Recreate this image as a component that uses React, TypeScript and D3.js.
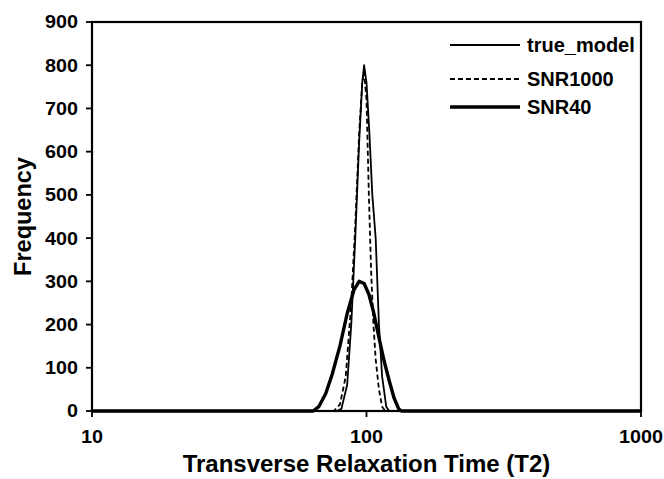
import React from 'react';
import * as d3 from 'd3';

// T2 grid points (ms) and frequencies
const trueT2 = [10, 78, 81, 85, 88, 91, 94, 96.5, 98, 100, 102.5, 105, 108, 111, 114, 118, 121, 1000];
const trueModel = [0, 0, 5, 60, 200, 400, 620, 760, 800, 760, 640, 500, 400, 200, 80, 10, 0, 0];

const snr1000T2 = [10, 76, 80, 84, 88, 91, 94, 96.5, 98, 100, 102, 104, 106, 108, 111, 114, 117, 1000];
const snr1000 = [0, 0, 15, 80, 250, 430, 640, 760, 785, 720, 500, 320, 200, 120, 50, 10, 0, 0];

const snr40T2 = [10, 64, 67, 71, 75, 80, 85, 90, 94, 98, 102, 106, 111, 116, 121, 126, 131, 134, 1000];
const snr40 = [0, 0, 10, 40, 85, 150, 225, 280, 300, 295, 270, 230, 170, 115, 70, 30, 5, 0, 0];

const yTicks = [0, 100, 200, 300, 400, 500, 600, 700, 800, 900];
const xTicks = [10, 100, 1000];

const series = [
  { name: 'true_model', xs: trueT2, ys: trueModel, width: 1.8, dash: '' },
  { name: 'SNR1000', xs: snr1000T2, ys: snr1000, width: 1.8, dash: '5,3' },
  { name: 'SNR40', xs: snr40T2, ys: snr40, width: 3.4, dash: '' },
];
const legendY = [45, 79, 107];

const W = 664, H = 479;
const left = 92, right = 641, top = 22, bottom = 411;

export default function App() {
  const x = d3.scaleLog().domain([10, 1000]).range([left, right]);
  const y = d3.scaleLinear().domain([0, 900]).range([bottom, top]);
  const line = d3.line<[number, number]>().x((d) => x(d[0])).y((d) => y(d[1]));
  const font = 'Liberation Sans, Arial, sans-serif';

  return (
    <svg width={W} height={H} style={{ position: 'absolute', left: 0, top: 0, background: '#fff' }} fontFamily={font}>
      <rect x={0} y={0} width={W} height={H} fill="#fff" />
      {series.map((s) => (
        <path
          key={s.name}
          d={line(s.xs.map((v, i) => [v, s.ys[i]] as [number, number])) || ''}
          fill="none"
          stroke="#000"
          strokeWidth={s.width}
          strokeDasharray={s.dash}
          strokeLinejoin="round"
        />
      ))}
      {/* frame */}
      <rect x={left} y={top} width={right - left} height={bottom - top} fill="none" stroke="#000" strokeWidth={2.2} />
      {yTicks.map((t) => (
        <g key={t}>
          <line x1={left - 6} x2={left} y1={y(t)} y2={y(t)} stroke="#000" strokeWidth={1.8} />
          <text x={left - 14} y={y(t)} dy="0.36em" textAnchor="end" fontSize={18} fontWeight="bold"
            textLength={String(t).length * 11} lengthAdjust="spacingAndGlyphs">{t}</text>
        </g>
      ))}
      {xTicks.map((t) => (
        <g key={t}>
          <line x1={x(t)} x2={x(t)} y1={bottom} y2={bottom + 6} stroke="#000" strokeWidth={1.8} />
          <text x={x(t)} y={bottom + 32} textAnchor="middle" fontSize={18} fontWeight="bold"
            textLength={String(t).length * 11} lengthAdjust="spacingAndGlyphs">{t}</text>
        </g>
      ))}
      <text x={(left + right) / 2} y={472} textAnchor="middle" fontSize={24} fontWeight="bold">Transverse Relaxation Time (T2)</text>
      <text transform={`translate(31,${(top + bottom) / 2}) rotate(-90)`} textAnchor="middle" fontSize={23.5} fontWeight="bold">Frequency</text>
      {series.map((s, i) => (
        <g key={s.name}>
          <line x1={450} x2={520} y1={legendY[i]} y2={legendY[i]} stroke="#000" strokeWidth={s.width} strokeDasharray={s.dash} />
          <text x={527} y={legendY[i]} dy="0.36em" fontSize={20} fontWeight="bold">{s.name}</text>
        </g>
      ))}
    </svg>
  );
}
